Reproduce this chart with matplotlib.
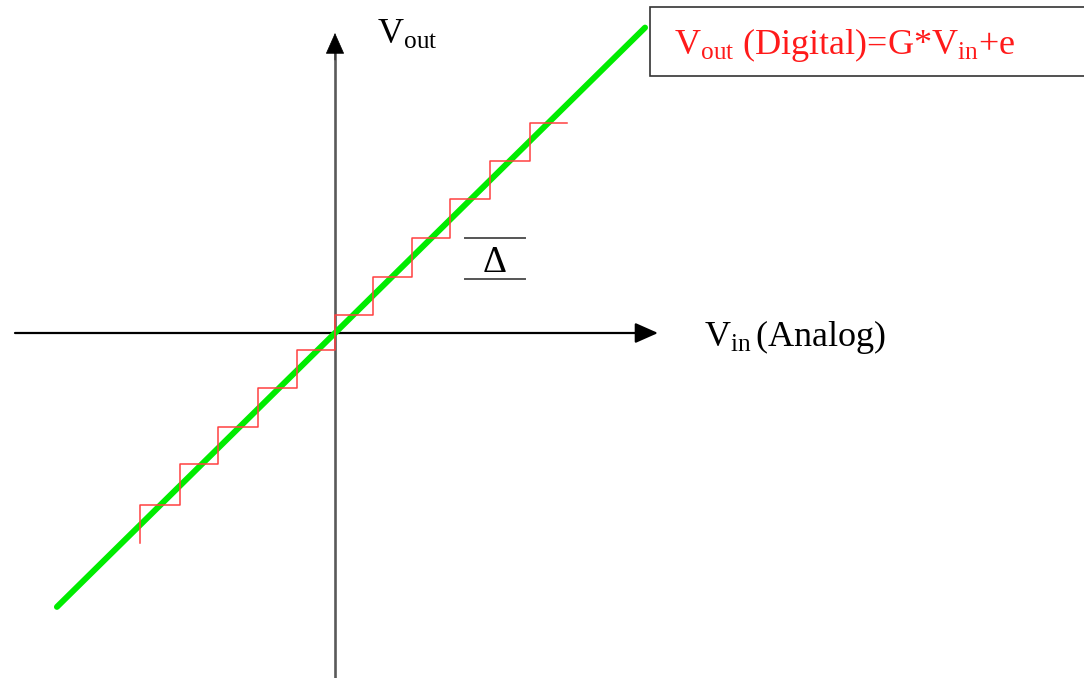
import matplotlib
matplotlib.use("Agg")
import matplotlib.pyplot as plt
from matplotlib.patches import Rectangle
import numpy as np

plt.rcParams['mathtext.fontset'] = 'custom'
plt.rcParams['mathtext.rm'] = 'Liberation Serif'
plt.rcParams['mathtext.it'] = 'Liberation Serif:italic'
plt.rcParams['font.family'] = ['Liberation Serif', 'DejaVu Serif']

# ---- data (units of one quantization step, origin at axis crossing) ----
# staircase transition points (x) and output levels (y)
stair_x = [-5.0, -3.97, -3.0, -1.97, -0.97, 0.0, 0.97, 1.97, 2.95, 3.97, 5.0, 5.95]
stair_levels = [-4.41, -3.36, -2.41, -1.41, -0.44, 0.46, 1.44, 2.44, 3.44, 4.41, 5.38]
stair_start_y = -5.38
# ideal transfer line end points
line_x = [-7.13, 7.95]
gain = 0.985

W, H = 1084, 678
px = 39.0  # pixels per unit
ox, oy = 335, 333  # origin in pixels

fig = plt.figure(figsize=(W / 100, H / 100), dpi=100)
ax = fig.add_axes([0, 0, 1, 1])
ax.set_xlim(-ox / px, (W - ox) / px)
ax.set_ylim((oy - H) / px, oy / px)
ax.axis('off')

def X(p):
    return (p - ox) / px

def Y(p):
    return (oy - p) / px

head = '-|>,head_length=1.4,head_width=0.62'
# horizontal axis
ax.annotate('', xy=(X(658), 0), xytext=(X(15), 0),
            arrowprops=dict(arrowstyle=head, color='black', lw=1.6,
                            shrinkA=0, shrinkB=0))
# vertical axis (grey shaft, black head)
ax.plot([0, 0], [Y(678), Y(50)], color='#5a5a5a', lw=1.9, zorder=2)
ax.annotate('', xy=(0, Y(33)), xytext=(0, Y(60)),
            arrowprops=dict(arrowstyle=head, color='black', lw=0.5,
                            shrinkA=0, shrinkB=0))

# green ideal line
lx = np.array(line_x)
ax.plot(lx, gain * lx, color='#00ec00', lw=4.3, solid_capstyle='round', zorder=3)

# red staircase
sx = [stair_x[0]]
sy = [stair_start_y]
for i, lev in enumerate(stair_levels):
    sx += [stair_x[i], stair_x[i + 1]]
    sy += [lev, lev]
ax.plot(sx, sy, color='#ff4040', lw=1.1, zorder=4)

# delta annotation
ax.plot([X(465), X(525)], [Y(238), Y(238)], color='#555555', lw=1.4)
ax.plot([X(465), X(525)], [Y(279), Y(279)], color='#555555', lw=1.4)
ax.text(X(495), Y(272), 'Δ', ha='center', va='baseline', fontsize=27, color='black')

# axis labels
ax.text(X(377), Y(44), r'$\mathrm{V}_{\mathrm{out}}$', fontsize=26, ha='left', va='baseline')
ax.text(X(704), Y(346), r'$\mathrm{V}_{\mathrm{in}}\,$' + '(Analog)', fontsize=26,
        ha='left', va='baseline')

# formula box
box = Rectangle((X(650), Y(76)), (W + 20 - 650) / px, (76 - 7) / px,
                facecolor='white', edgecolor='#333333', lw=1.2, zorder=5)
ax.add_patch(box)
ax.text(X(674), Y(54), r'$\mathrm{V}_{\mathrm{out}}$' + ' (Digital)=G*' + r'$\mathrm{V}_{\mathrm{in}}$' + '+e',
        fontsize=26, color='#ff1a1a', ha='left', va='baseline', zorder=6)

fig.savefig('out.png', dpi=100)
